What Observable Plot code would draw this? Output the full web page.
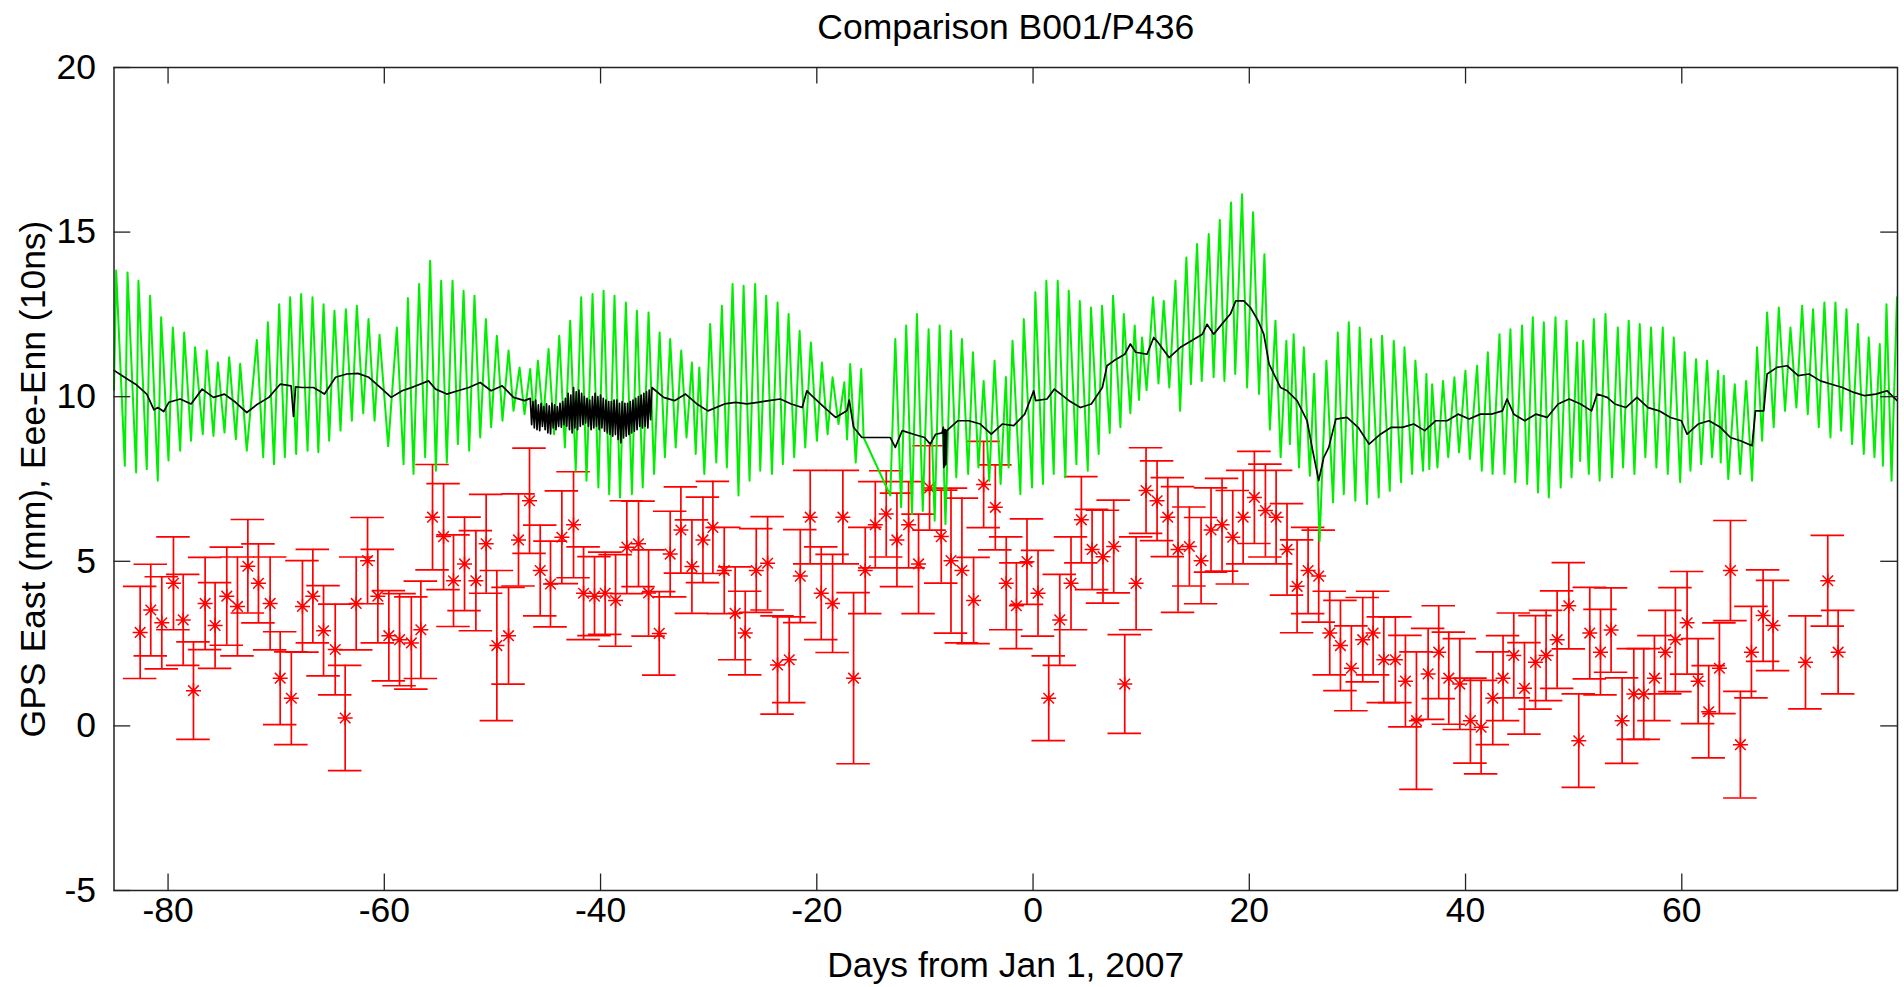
<!DOCTYPE html>
<html><head><meta charset="utf-8">
<script src="https://cdn.jsdelivr.net/npm/d3@7"></script>
<script src="https://cdn.jsdelivr.net/npm/@observablehq/plot@0.6"></script>
<style>body{margin:0;background:#fff;}</style>
</head><body><div id="chart"></div>
<script>
const title = "Comparison B001/P436";
const xLabel = "Days from Jan 1, 2007";
const yLabel = "GPS East (mm), Eee-Enn (10ns)";
const xTicks = [-80,-60,-40,-20,0,20,40,60];
const yTicks = [-5,0,5,10,15,20];

// GPS East (red points with error bars)
const redDay = [-82.58,-81.6,-80.58,-79.5,-78.6,-77.65,-76.57,-75.65,-74.57,-73.58,-72.62,-71.64,-70.56,-69.63,-68.6,-67.57,-66.61,-65.62,-64.54,-63.62,-62.6,-61.55,-60.6,-59.58,-58.59,-57.5,
-56.62,-55.54,-54.52,-53.6,-52.58,-51.53,-50.58,-49.59,-48.51,-47.59,-46.57,-45.58,-44.63,-43.58,-42.5,-41.57,-40.56,-39.57,-38.61,-37.57,-36.49,-35.56,-34.57,-33.56,-32.57,-31.55,-30.53,-29.61,
-28.56,-27.55,-26.62,-25.6,-24.55,-23.63,-22.55,-21.53,-20.61,-19.59,-18.54,-17.59,-16.6,-15.52,-14.59,-13.58,-12.59,-11.51,-10.59,-9.57,-8.49,-7.59,-6.58,-5.5,-4.57,-3.49,-2.48,
-1.54,-0.56,0.46,1.45,2.47,3.51,4.47,5.46,6.47,7.46,8.48,9.53,10.45,11.47,12.46,13.41,14.46,15.54,16.46,17.48,18.47,19.43,20.47,21.49,22.48,23.49,24.42,25.44,
26.42,27.44,28.43,29.44,30.49,31.45,32.44,33.51,34.44,35.46,36.54,37.52,38.45,39.47,40.45,41.44,42.52,43.47,44.46,45.45,46.47,47.45,48.47,49.55,50.47,51.49,52.48,
53.46,54.48,55.56,56.48,57.47,58.48,59.41,60.49,61.51,62.49,63.48,64.5,65.42,66.44,67.52,68.44,71.44,73.5,74.46];
const redVal = [2.84,3.52,3.13,4.33,3.22,1.07,3.72,3.05,3.94,3.63,4.85,4.33,3.72,1.45,0.84,3.63,3.94,2.89,2.32,0.24,3.72,5.02,3.94,2.74,2.62,2.52,
2.92,6.34,5.75,4.41,4.92,4.41,5.53,2.44,2.74,5.65,6.84,4.72,4.31,5.73,6.11,4.03,3.94,4.03,3.81,5.43,5.53,4.04,2.81,5.22,5.95,4.84,5.65,6.03,
4.72,3.42,2.82,4.72,4.94,1.85,2.01,4.55,6.34,4.03,3.72,6.34,1.45,4.72,6.11,6.44,5.65,6.11,4.92,7.23,5.75,5.02,4.72,3.81,7.33,6.64,4.33,
3.65,4.99,4.03,0.84,3.22,4.33,6.26,5.36,5.14,5.45,1.27,4.33,7.15,6.84,6.34,5.36,5.45,5.02,5.95,6.11,5.73,6.34,6.94,6.54,6.34,5.36,4.24,4.72,
4.55,2.82,2.44,1.75,2.62,2.82,2.01,2.01,1.36,0.16,1.58,2.24,1.45,1.27,0.16,-0.04,0.84,1.45,2.14,1.14,1.93,2.14,2.62,3.65,-0.45,2.82,2.24,
2.91,0.16,0.97,0.97,1.45,2.24,2.62,3.13,1.36,0.43,1.75,4.72,-0.57,2.24,3.35,3.05,1.93,4.41,2.24];
const redErr = [1.4,1.39,1.4,1.41,1.38,1.48,1.4,1.3,1.49,1.5,1.42,1.2,1.41,1.41,1.41,1.39,1.42,1.37,1.38,1.6,1.41,1.31,1.42,1.37,1.4,1.4,
1.48,1.6,1.61,1.39,1.42,1.52,1.5,2.28,1.47,1.4,1.6,1.38,1.3,1.41,1.61,1.41,1.2,1.25,1.39,1.41,1.3,1.31,1.27,1.3,1.31,1.42,1.3,1.4,
1.31,1.41,1.27,1.27,1.42,1.49,1.3,1.41,1.42,1.41,1.49,1.42,2.6,1.31,1.31,1.31,1.42,1.31,1.51,1.28,1.41,2.2,2.2,1.31,1.31,1.29,1.41,
1.3,1.3,1.3,1.29,1.38,1.41,1.31,1.22,1.41,1.41,1.5,1.41,1.3,1.21,1.2,1.91,1.2,1.31,1.28,1.41,1.42,1.42,1.4,1.41,1.42,1.39,1.41,1.31,
1.4,1.27,1.37,1.29,1.28,1.27,1.3,1.3,1.39,2.09,1.38,1.41,1.4,1.38,1.29,1.42,1.41,1.29,1.29,1.39,1.42,1.37,1.48,1.31,1.42,1.39,1.3,
1.28,1.3,1.38,1.38,1.29,1.27,1.58,1.56,1.29,1.4,1.38,1.52,1.62,1.39,1.39,1.37,1.41,1.38,1.27];

// Eee-Enn (black, smoothed)
const blackDay = [-85,-84.03,-83,-81.97,-81.3,-80.95,-80.4,-79.93,-78.88,-77.87,-76.85,-75.8,-74.78,-73.76,-72.72,-71.7,-70.68,-69.63,-68.62,-68.4,-68.2,-67.6,-66.55,-65.53,-64.51,-63.47,-62.45,-61.43,-60.38,-59.36,-58.35,-57.3,-55.91,-55.26,-54.22,-53.2,-52.18,-51.13,-50.12,-49.1,-48.05,-47.03,
-46.5,-46.375,-46.25,-46.125,-46,-45.875,-45.75,-45.625,-45.5,-45.375,-45.25,-45.125,-45,-44.875,-44.75,-44.625,-44.5,-44.375,-44.25,-44.125,-44,-43.875,-43.75,-43.625,-43.5,-43.375,-43.25,-43.125,-43,-42.875,-42.75,-42.625,-42.5,-42.375,-42.25,-42.125,-42,-41.875,-41.75,-41.625,-41.5,-41.375,-41.25,-41.125,-41,-40.875,-40.75,-40.625,-40.5,-40.375,-40.25,-40.125,-40,-39.875,-39.75,-39.625,-39.5,-39.375,-39.25,-39.125,-39,-38.875,-38.75,-38.625,-38.5,-38.375,-38.25,-38.125,-38,-37.875,-37.75,-37.625,-37.5,-37.375,-37.25,-37.125,-37,-36.875,-36.75,-36.625,-36.5,-36.375,-36.25,-36.125,-36,-35.875,-35.75,-35.625,-35.5,-35.375,-35.25,
-34.17,-33.16,-32.14,-31.09,-30.07,-28.53,-27.51,-26.47,-25.45,-24.43,-23.38,-22.36,-21.35,-20.92,-20.3,-19.28,-18.26,-17.22,-17,-16.6,-15.83,-13.2,-12.74,-12.1,-11.05,-10.03,-9.51,-9.01,-8.4,-8.3,-8.25,-8.2,-8.15,-8.1,-8.05,-7.97,-6.95,-5.93,-4.88,-3.86,-2.85,-1.79,-0.77,0.06,0.24,1.29,1.97,3.33,4.38,5.39,6.41,6.84,7.46,8.48,9,9.5,10.54,11.16,11.56,12.58,13.63,14.65,15.66,16.09,16.71,17.73,18.25,18.75,19.49,20.1,20.81,21.34,21.83,22.88,23.5,24.42,25.34,25.5,25.9,26.42,26.89,27.35,28,29.04,30.06,31.08,32.13,33.14,34.16,35.21,36.23,37.25,38.29,39.31,40.33,41.38,42.4,43.41,43.84,44.46,45.48,46.5,47.54,48.56,49.58,50.63,51.65,52.17,53.1,53.8,54.82,55.86,56.88,57.9,58.95,59.96,60.49,61.51,62.52,63.57,64.5,65.42,66.5,66.81,67.58,67.89,68.81,69.74,70.76,71.77,72.82,73.84,74.86,75.91,76.92,77.94,78.99,79.91];
const blackVal = [10.8,10.59,10.38,10.08,9.6,9.67,9.55,9.83,9.93,9.78,10.23,9.98,10.08,9.83,9.52,9.78,9.98,10.38,10.33,9.4,10.3,10.28,10.28,10.08,10.59,10.69,10.71,10.59,10.28,9.98,10.18,10.3,10.48,10.23,10.08,10.18,10.28,10.43,10.18,10.33,9.98,9.88,
9.95,9.15,9.85,9.05,9.9,9.0,9.75,8.97,9.8,9.1,9.7,9.0,9.78,8.9,9.72,8.87,9.8,9.05,9.75,9.0,9.7,9.1,9.8,9.07,9.85,9.15,9.95,9.1,10.1,9.0,10.05,8.9,10.28,9.05,10.15,9.0,10.2,9.1,10.1,9.15,10.0,9.2,9.95,9.1,9.9,9.0,10.0,9.05,10.1,9.1,10.0,9.0,10.05,9.05,9.95,8.95,9.9,8.9,9.85,8.85,9.85,8.8,9.9,8.85,9.9,8.7,9.8,8.6,9.85,8.75,9.8,8.8,9.8,8.85,9.85,8.9,9.9,8.95,9.95,9.0,10.0,9.1,10.05,9.05,10.1,9.1,10.15,9.05,10.2,9.3,10.28,
9.98,9.88,10.08,9.78,9.57,9.78,9.83,9.78,9.83,9.88,9.93,9.78,9.67,10.18,9.98,9.67,9.37,9.57,9.9,9.07,8.76,8.76,8.46,8.97,8.86,8.76,8.56,8.86,8.9,9.07,7.85,9.0,7.9,9.0,7.95,8.97,9.27,9.27,9.17,8.86,9.17,9.12,9.47,10.18,9.88,9.93,10.23,9.88,9.67,9.78,10.28,10.94,11.09,11.29,11.6,11.35,11.29,11.8,11.65,11.19,11.5,11.7,11.9,12.2,11.9,12.31,12.51,12.91,12.91,12.71,12.31,11.9,10.99,10.28,10.18,9.88,9.27,9.0,8.3,7.45,8.16,8.46,9.32,9.37,9.07,8.56,8.86,9.07,9.07,9.17,8.97,9.27,9.27,9.47,9.32,9.47,9.47,9.57,9.93,9.47,9.27,9.47,9.37,9.78,9.93,9.78,9.57,10.08,9.98,9.78,9.67,9.98,9.67,9.57,9.37,9.27,8.86,9.17,9.27,9.07,8.76,8.66,8.51,9.57,9.57,10.69,10.89,10.94,10.64,10.69,10.48,10.38,10.28,10.13,10.03,10.08,10.18,9.88];

// Eee-Enn (green, raw): alternating peaks and troughs
const greenDay = [-85,-84.8,-84,-83.75,-82.95,-82.74,-81.97,-81.66,-80.95,-80.64,-79.96,-79.56,-78.88,-78.51,-77.87,-77.5,-76.79,-76.42,-75.8,-75.4,-74.78,-74.35,-73.73,-73.33,-72.72,-71.79,-71.2,-70.77,-70.2,-69.72,-69.2,-68.71,-68.15,-67.69,-67.1,-66.64,-66.1,-65.62,-65.1,-64.61,-64.05,-63.56,-63,-62.54,-61.95,-61.46,-60.9,-60.44,-59.64,-58.84,-58.22,-57.82,-57.3,
-56.78,-56.22,-55.76,-55.23,-54.74,-54.22,-53.69,-53.2,-52.67,-52.15,-51.66,-51.13,-50.61,-50.12,-49.59,-49.07,-48.51,-48.05,-47.49,-47.03,-46.51,-46.15,-45.8,-45.3,-44.81,-44.3,-43.82,-43.3,-42.81,-42.3,-41.79,-41.3,-40.74,-40.2,-39.72,-39.2,-38.71,-38.2,-37.66,-37.1,-36.64,-36.1,-35.56,-35.05,-34.54,-34.05,-33.56,-33.05,-32.54,-32.05,-31.55,-31.2,-30.87,-30.4,-29.86,-29.3,
-28.78,-28.32,-27.79,-27.24,-26.77,-26.22,-25.7,-25.23,-24.68,-24.15,-23.63,-23.14,-22.61,-22.09,-21.59,-21.07,-20.55,-19.99,-19.53,-19,-18.54,-17.99,-17.45,-17.2,-16.91,-16.4,-15.89,-15.67,-13.2,-12.74,-12.2,-11.73,-11.2,-10.74,-10.2,-9.66,-9.1,-8.64,-8.1,-7.6,-7.1,-6.58,-6,-5.56,-5.05,-4.57,-4.05,-3.56,-3,-2.51,-2.26,-1.9,-1.17,
-0.86,-0.09,0.21,0.92,1.23,1.91,2.28,2.99,3.3,4.01,4.32,5.06,5.36,6.07,6.38,7.09,7.4,8.08,8.39,9,9.4,9.8,10.08,10.5,11.1,11.6,12.09,12.6,13.17,13.6,14.18,14.6,15.17,15.6,16.25,16.7,17.27,17.7,18.31,18.7,19.33,19.8,20.35,20.9,21.4,21.9,22.42,22.9,23.43,23.75,24.1,24.6,25.04,25.6,26,26.5,
27.13,27.75,28.18,28.74,29.2,29.81,30.21,30.89,31.26,31.97,32.28,32.99,33.36,34.04,34.35,35.06,35.36,36.07,36.38,36.65,36.91,37.4,37.92,38.4,38.97,39.4,39.99,40.4,41.07,41.5,42.06,42.5,43.14,43.6,44.15,44.6,45.23,45.7,46.22,46.7,47.24,47.7,48.32,48.8,49.33,49.8,50.32,50.6,50.88,51.4,51.86,52.4,52.94,53.55,
54.08,54.57,55.09,55.62,56.11,56.63,57.16,57.65,58.24,58.7,59.26,59.85,60.27,60.8,61.32,61.8,62.34,62.8,63.36,63.6,63.88,64.3,64.9,65.4,65.95,66.5,66.96,67.43,67.89,68.5,68.97,69.55,70.05,70.6,71.13,71.65,72.14,72.67,73.19,73.75,74.21,74.74,75.23,75.75,76.28,76.83,77.29,77.82,78.31,78.6,78.93,79.4,79.9];
const greenVal = [10.2,13.83,7.9,13.77,7.7,13.52,7.8,13.07,7.45,12.41,8.06,12.1,8.36,11.95,8.66,11.5,8.86,11.4,8.81,11.04,8.91,11.2,8.71,11.0,8.36,11.72,8.16,12.26,7.95,12.81,8.16,13.02,8.26,13.12,8.36,13.02,8.31,12.81,8.66,12.61,8.97,12.66,9.27,12.76,9.5,12.36,9.27,11.88,8.5,12.1,7.95,13.0,7.65,
13.42,8.16,14.13,7.75,13.52,8.0,13.52,8.56,13.22,8.36,13.07,8.76,12.36,9.07,11.85,9.27,11.4,9.57,10.89,9.47,10.84,9.3,11.09,9.27,11.45,8.86,11.85,8.46,12.31,7.75,13.02,7.45,13.12,7.24,13.22,7.04,13.07,6.94,12.86,7.04,12.61,7.24,12.56,7.65,11.95,8.16,11.75,8.46,11.4,8.76,11.04,8.26,10.89,7.65,12.21,8.0,
12.76,7.85,13.42,7.0,13.37,7.45,13.42,7.75,13.07,7.65,12.86,7.95,12.51,8.16,12.0,8.46,11.65,8.66,11.04,8.86,10.59,9.17,10.44,8.7,10.99,8.0,10.84,8.76,7.0,11.75,6.64,12.16,6.43,12.51,6.53,12.05,6.23,12.16,6.13,12.0,7.55,11.75,7.65,11.35,7.85,10.48,7.45,11.09,7.35,10.6,7.85,11.7,7.04,
12.36,7.24,13.17,7.35,13.52,7.65,13.52,7.55,13.22,7.95,12.91,7.75,12.71,8.26,12.76,8.9,13.07,9.07,12.51,9.5,12.16,9.9,11.8,10.2,13.02,10.4,12.91,10.28,13.52,9.57,14.23,10.38,14.64,10.48,14.94,10.59,15.37,10.48,15.9,10.69,16.15,10.28,15.6,10.08,14.33,9.0,12.31,8.16,11.7,8.56,11.9,7.85,11.5,7.6,10.7,5.6,
11.09,6.79,11.95,7.04,12.26,6.84,12.1,6.74,11.75,6.94,11.85,7.14,11.7,7.4,11.5,7.65,11.09,7.75,10.69,7.8,10.38,7.85,10.48,8.16,10.59,8.31,10.79,8.11,10.94,7.75,11.35,7.65,11.9,7.65,12.05,7.4,12.16,7.35,12.41,7.09,12.26,6.94,12.41,7.24,12.31,7.55,11.65,8.05,11.7,7.65,12.36,7.45,12.51,7.55,
12.1,7.85,12.31,7.65,12.21,8.16,12.1,7.85,12.1,7.65,11.8,7.4,11.35,7.75,11.14,7.95,11.09,8.16,10.79,8.0,10.64,7.5,10.38,7.65,10.48,7.45,11.5,8.66,12.56,9.07,12.71,9.57,12.1,9.67,12.76,9.47,12.66,9.07,12.86,8.76,12.86,8.97,12.66,8.56,12.21,8.26,11.8,8.16,11.6,7.9,12.81,7.45,13.02];

const red = redDay.map((d, i) => ({x: d, y: redVal[i], e: redErr[i]}));
const black = blackDay.map((d, i) => ({x: d, y: blackVal[i]}));
const green = greenDay.map((d, i) => ({x: d, y: greenVal[i]}));

const xDom = [-85, 79.95], yDom = [-5, 20];
const capHalf = 1.55, tickX = 1.55, tickY = 0.5;
const font = "Liberation Sans, Arial, Helvetica, sans-serif";
const fs = 35.5;

const asterisk = {
  draw(ctx, size) {
    const r = Math.sqrt(size / Math.PI), s = r * Math.SQRT1_2;
    ctx.moveTo(-r, 0); ctx.lineTo(r, 0);
    ctx.moveTo(0, -r); ctx.lineTo(0, r);
    ctx.moveTo(-s, -s); ctx.lineTo(s, s);
    ctx.moveTo(-s, s); ctx.lineTo(s, -s);
  }
};

const chart = Plot.plot({
  width: 1904, height: 987,
  marginLeft: 113.5, marginRight: 7, marginTop: 67, marginBottom: 97,
  style: {fontFamily: font, fontSize: fs + "px", color: "#000", background: "#fff"},
  x: {domain: xDom}, y: {domain: yDom},
  marks: [
    Plot.ruleX(red, {x: "x", y1: d => d.y - d.e, y2: d => d.y + d.e, stroke: "#ff0000", strokeWidth: 1.7}),
    Plot.ruleY(red, {y: d => d.y + d.e, x1: d => d.x - capHalf, x2: d => d.x + capHalf, stroke: "#ff0000", strokeWidth: 1.7}),
    Plot.ruleY(red, {y: d => d.y - d.e, x1: d => d.x - capHalf, x2: d => d.x + capHalf, stroke: "#ff0000", strokeWidth: 1.7}),
    Plot.dot(red, {x: "x", y: "y", symbol: asterisk, r: 7.5, stroke: "#ff0000", strokeWidth: 1.5}),
    Plot.dot(red, {x: "x", y: "y", r: 2, fill: "#ff0000"}),
    Plot.line(green, {x: "x", y: "y", stroke: "#00ee00", strokeWidth: 2}),
    Plot.line(black, {x: "x", y: "y", stroke: "#000", strokeWidth: 1.7}),
    Plot.ruleX(xTicks, {x: d => d, y1: yDom[0], y2: yDom[0] + tickY, stroke: "#222", strokeWidth: 1.3}),
    Plot.ruleX(xTicks, {x: d => d, y1: yDom[1] - tickY, y2: yDom[1], stroke: "#222", strokeWidth: 1.3}),
    Plot.ruleY(yTicks, {y: d => d, x1: xDom[0], x2: xDom[0] + tickX, stroke: "#222", strokeWidth: 1.3}),
    Plot.ruleY(yTicks, {y: d => d, x1: xDom[1] - tickX, x2: xDom[1], stroke: "#222", strokeWidth: 1.3}),
    Plot.frame({stroke: "#222", strokeWidth: 1.5}),
    Plot.axisX({ticks: xTicks, tickSize: 0, tickPadding: 6, tickFormat: d => String(d), fontSize: fs, label: null}),
    Plot.axisY({ticks: yTicks, tickSize: 0, tickPadding: 18, tickFormat: d => String(d), fontSize: fs, label: null}),
    Plot.text([title], {frameAnchor: "top", lineAnchor: "middle", textAnchor: "middle", dy: -40, fontSize: fs, text: d => d}),
    Plot.text([xLabel], {frameAnchor: "bottom", lineAnchor: "middle", textAnchor: "middle", dy: 75, fontSize: fs, text: d => d}),
    Plot.text([yLabel], {frameAnchor: "left", lineAnchor: "middle", textAnchor: "middle", dx: -80, rotate: -90, fontSize: fs, text: d => d})
  ]
});
document.getElementById("chart").appendChild(chart);
</script>
</body></html>
